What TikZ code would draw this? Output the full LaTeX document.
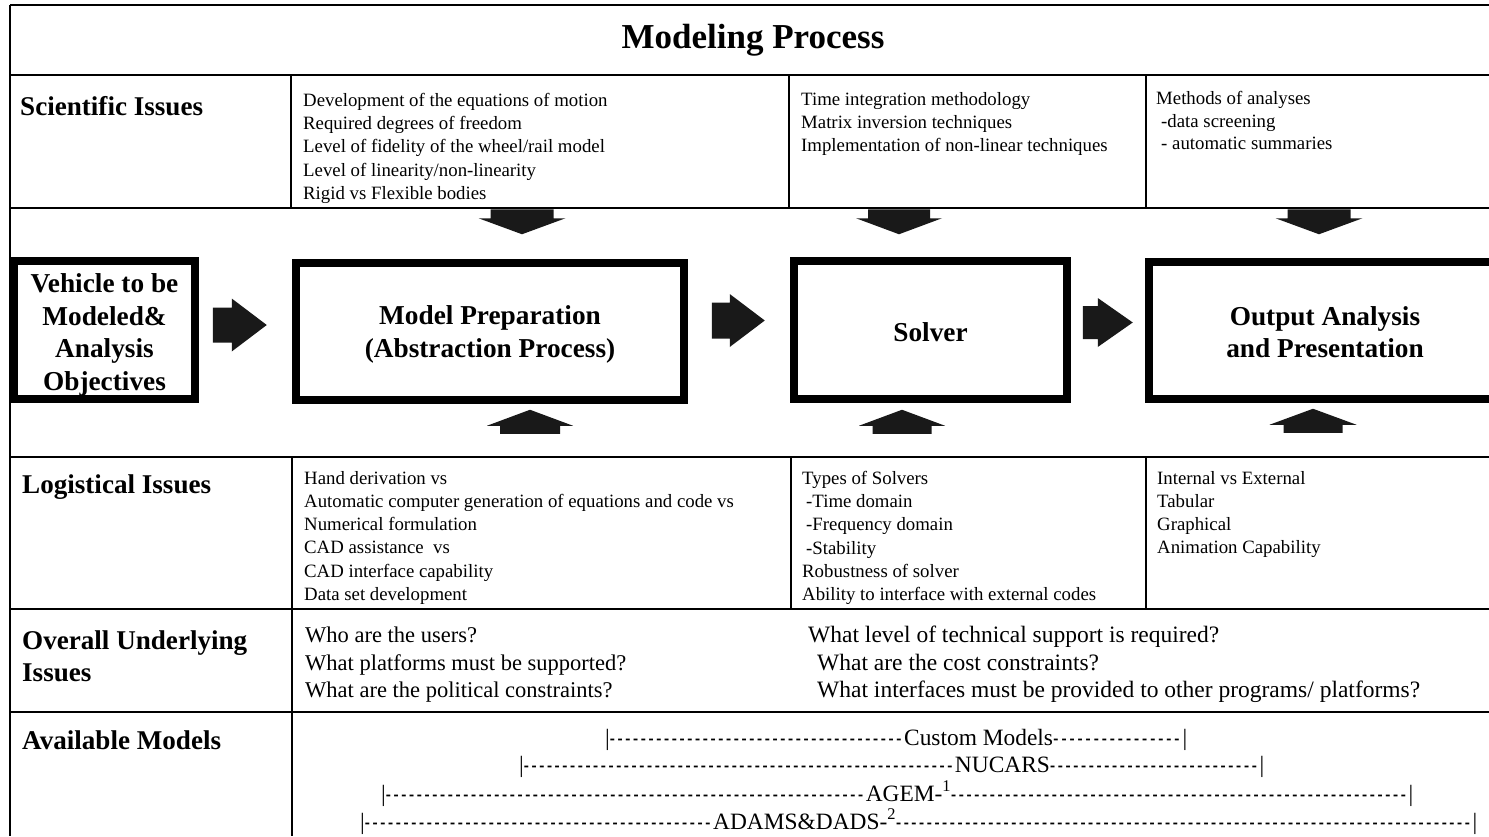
\documentclass[tikz,border=0pt]{standalone}
\usepackage{fontspec}
\usepackage{graphicx}
\setmainfont{Liberation Serif}
\usetikzlibrary{calc}

% a short hyphen used as the repeating piece of a dashed run
\newcommand\shortdash{\hbox{\scalebox{0.65}[1]{-}\kern2.6pt}}
% a run of short hyphens that stretches in the given ratio
\newcommand\dashrun[1]{\xleaders\shortdash\hskip 0pt plus #1fil\relax}
% |-----label-----| of a given total width, left/right stretch ratios
\newcommand\modelspan[4]{\hbox to #1pt{|\dashrun{#2}#3\dashrun{#4}|}}
% filled block arrow: start point, rotation, shaft length, shaft half width, head length, head half width
\newcommand\blockarrow[6]{%
  \fill[arrowfill,shift={#1},rotate=#2]
    (0,-#4) -- (#3,-#4) -- (#3,-#6) -- ({#3+#5},0) -- (#3,#6) -- (#3,#4) -- (0,#4) -- cycle;}

\begin{document}
\begin{tikzpicture}[x=1pt,y=-1pt,
  rule/.style={line width=1.6pt},
  bigbox/.style={draw, line width=7.5pt, inner sep=0pt},
  boxlabel/.style={inner sep=0pt, align=center,
    font=\bfseries\fontsize{27.3}{32.5}\selectfont},
  rowlabel/.style={inner sep=0pt, align=left, font=\bfseries\fontsize{27.1}{32}\selectfont},
  celltext/.style={inner sep=0pt, align=left, anchor=north west,
    font=\fontsize{18.8}{23.2}\selectfont},
  bigtext/.style={inner sep=0pt, align=left, anchor=north west,
    font=\fontsize{22.5}{27.5}\selectfont},
  modeltext/.style={inner sep=0pt, anchor=base west, font=\fontsize{23.4}{27}\selectfont},
  arrowfill/.style={fill=black!90}
]
\useasboundingbox (0,0) rectangle (1489,836);
\clip (0,0) rectangle (1489,836);

% table rules
\draw[rule] (10,5) -- (1489,5);
\draw[rule] (10,5) -- (10,836);
\foreach \y in {75,208,457,609,712} \draw[rule] (10,\y) -- (1489,\y);
\draw[rule] (291,75) -- (291,208) (789,75) -- (789,208) (1146,75) -- (1146,208);
\draw[rule] (292,457) -- (292,836) (791,457) -- (791,609) (1146,457) -- (1146,609);

% title
\node[font=\bfseries\fontsize{35}{42}\selectfont, anchor=base, inner sep=0pt] (title) at (753,48) {Modeling Process};

% row labels
\node[rowlabel, anchor=base west] (sci) at (20,115) {Scientific Issues};
\node[rowlabel, anchor=base west] (log) at (22,493) {Logistical Issues};
\node[rowlabel, anchor=north west] (overall) at (22,630) {Overall Underlying\\Issues};
\node[rowlabel, anchor=base west] (avail) at (22,749) {Available Models};

% scientific issues
\node[celltext] (sci2) at (303,93) {Development of the equations of motion\\Required degrees of freedom\\Level of fidelity of the wheel/rail model\\Level of linearity/non-linearity\\Rigid vs Flexible bodies};
\node[celltext] (sci3) at (801,92) {Time integration methodology\\Matrix inversion techniques\\Implementation of non-linear techniques};
\node[celltext, font=\fontsize{18.8}{22.7}\selectfont] (sci4) at (1156,91) {Methods of analyses\\\hspace*{5pt}-data screening\\\hspace*{5pt}- automatic summaries};

% process boxes
\node[bigbox, minimum width=181pt, minimum height=138pt] (veh) at (104.5,330) {};
\node[bigbox, minimum width=388pt, minimum height=137pt] (prep) at (490,331.5) {};
\node[bigbox, minimum width=273pt, minimum height=138pt] (solver) at (930.5,330) {};
\node[bigbox, minimum width=352pt, minimum height=137pt] (output) at (1325,330.5) {};
\node[boxlabel] (vehtext) at ($(veh)+(0,5)$) {Vehicle to be\\Modeled\&\\Analysis\\Objectives};
\node[boxlabel] (preptext) at ($(prep)+(0,3)$) {Model Preparation\\(Abstraction Process)};
\node[boxlabel] (solvertext) at ($(solver)+(0,2)$) {Solver};
\node[boxlabel] (outputtext) at ($(output)+(0,1.5)$) {Output Analysis\\and Presentation};

% flow arrows between the boxes
\blockarrow{($(veh.east)+(14,-5)$)}{0}{19}{17.5}{35}{26.5}
\blockarrow{($(prep.east)+(24,-11)$)}{0}{18}{18}{35}{26.5}
\blockarrow{($(solver.east)+(12,-7.5)$)}{0}{15}{16.5}{35}{24.5}

% scientific issues feed down into the boxes
\blockarrow{($(prep.north)+(32,-50)$)}{-90}{9}{31.5}{16}{43.5}
\blockarrow{($(solver.north)+(-31.5,-48)$)}{-90}{9}{31}{16}{43}
\blockarrow{($(output.north)+(-6,-49)$)}{-90}{9}{31.5}{16}{43.5}

% logistical issues feed up into the boxes
\blockarrow{($(prep.south)+(40,30)$)}{90}{8}{30}{16}{43}
\blockarrow{($(solver.south)+(-28.5,31)$)}{90}{8}{29.5}{16}{43}
\blockarrow{($(output.south)+(-12,30)$)}{90}{8}{29.5}{16}{43.5}

% logistical issues
\node[celltext] (log2) at (304,471) {Hand derivation vs\\Automatic computer generation of equations and code vs\\Numerical formulation\\CAD assistance\ \ vs\\CAD interface capability\\Data set development};
\node[celltext] (log3) at (802,471) {Types of Solvers\\\hspace*{4pt}-Time domain\\\hspace*{4pt}-Frequency domain\\\hspace*{4pt}-Stability\\Robustness of solver\\Ability to interface with external codes};
\node[celltext] (log4) at (1157,471) {Internal vs External\\Tabular\\Graphical\\Animation Capability};

% overall underlying issues
\node[bigtext] (ov2) at (305,627) {Who are the users?\\What platforms must be supported?\\What are the political constraints?};
\node[bigtext, font=\fontsize{23.5}{27.5}\selectfont] (ov3) at (808,626) {What level of technical support is required?\\\hspace*{9pt}What are the cost constraints?\\\hspace*{9pt}What interfaces must be provided to other programs/ platforms?};

% available models
\node[modeltext] (custom) at (605,745) {\modelspan{582}{300}{Custom Models}{132}};
\node[modeltext] (nucars) at (519,772) {\modelspan{745}{436}{NUCARS}{212}};
\node[modeltext] (agem) at (381,801) {\modelspan{1032}{491}{AGEM-\textsuperscript{1}}{468}};
\node[modeltext] (adams) at (360,829) {\modelspan{1117}{377}{ADAMS\&DADS-\textsuperscript{2}}{624}};
\end{tikzpicture}
\end{document}
